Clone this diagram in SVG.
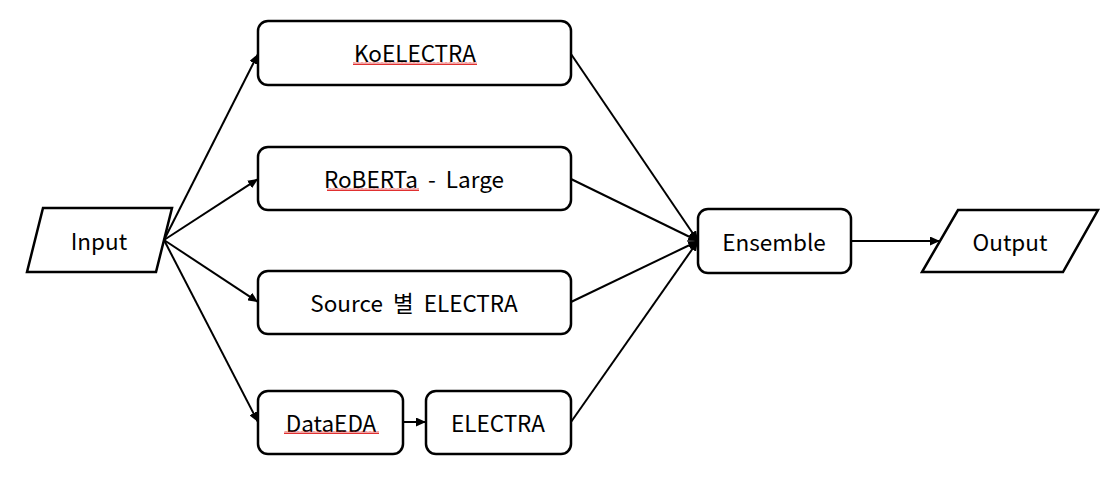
<svg xmlns="http://www.w3.org/2000/svg" width="1119" height="478" viewBox="0 0 1119 478">
<defs>
<marker id="ah" viewBox="0 0 10 10" refX="10" refY="5" markerWidth="5" markerHeight="4.5" orient="auto" markerUnits="strokeWidth" preserveAspectRatio="none">
<path d="M0,0 L10,5 L0,10 z" fill="#000"/>
</marker>
<pattern id="wave" width="4" height="3" patternUnits="userSpaceOnUse">
<path d="M0,2.5 L1,0.5 L2,2.5 L3,0.5 L4,2.5" fill="none" stroke="#e03030" stroke-width="1"/>
</pattern>
</defs>
<style>
.box{fill:#fff;stroke:#000;stroke-width:2.5}
.t{font-family:"Noto Sans CJK KR","Noto Sans",sans-serif;font-size:22.5px;fill:#000;text-anchor:middle;dominant-baseline:central}
.c{fill:none;stroke:#000;stroke-width:2;marker-end:url(#ah)}
.sq{fill:url(#wave)}
</style>
<rect width="1119" height="478" fill="#fff"/>
<g id="connectors">
<line class="c" x1="164" y1="240" x2="258" y2="54"/>
<line class="c" x1="164" y1="240" x2="258" y2="179"/>
<line class="c" x1="164" y1="240" x2="258" y2="302"/>
<line class="c" x1="164" y1="240" x2="258" y2="422"/>
<line class="c" x1="571" y1="54" x2="698" y2="241"/>
<line class="c" x1="571" y1="179" x2="698" y2="241"/>
<line class="c" x1="571" y1="302" x2="698" y2="241"/>
<line class="c" x1="571" y1="422" x2="698" y2="241"/>
<line class="c" x1="403" y1="422" x2="426" y2="422"/>
<line class="c" x1="851" y1="241" x2="940" y2="241"/>
</g>
<g id="input">
<polygon class="box" points="43,208 172,208 156,272 27,272"/>
<text class="t" x="99" y="240">Input</text>
</g>
<g id="koelectra">
<rect class="box" x="258" y="21" width="313" height="64" rx="10"/>
<text class="t" x="415" y="52">KoELECTRA</text>
<rect class="sq" x="353" y="62" width="124" height="3"/>
</g>
<g id="roberta">
<rect class="box" x="258" y="147" width="313" height="63" rx="10"/>
<text class="t" x="414" y="178" xml:space="preserve">RoBERTa  -  Large</text>
<rect class="sq" x="327" y="188" width="92" height="3"/>
</g>
<g id="source">
<rect class="box" x="258" y="271" width="313" height="63" rx="10"/>
<text class="t" x="414" y="302" xml:space="preserve">Source  별  ELECTRA</text>
</g>
<g id="dataeda">
<rect class="box" x="258" y="391" width="145" height="63" rx="10"/>
<text class="t" x="331" y="422">DataEDA</text>
<rect class="sq" x="284" y="431" width="95" height="3"/>
</g>
<g id="electra">
<rect class="box" x="426" y="391" width="145" height="63" rx="10"/>
<text class="t" x="498" y="422">ELECTRA</text>
</g>
<g id="ensemble">
<rect class="box" x="698" y="209" width="153" height="64" rx="10"/>
<text class="t" x="774" y="241">Ensemble</text>
</g>
<g id="output">
<polygon class="box" points="958,210 1098,210 1063,272 922,272"/>
<text class="t" x="1010" y="241">Output</text>
</g>
</svg>
